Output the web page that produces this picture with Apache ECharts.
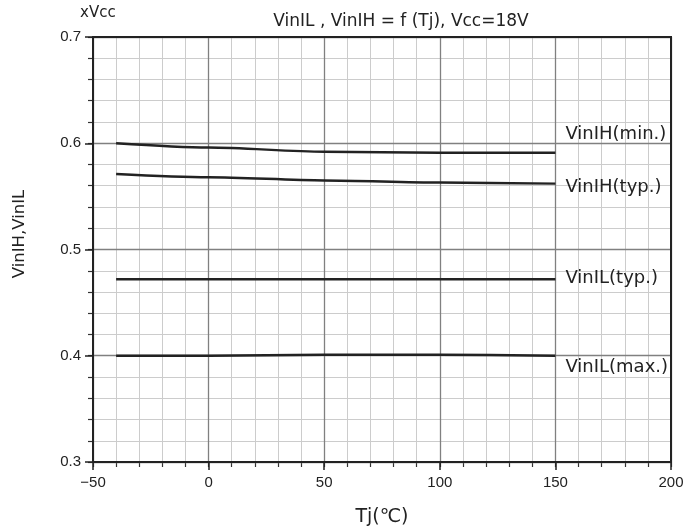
<!DOCTYPE html>
<html>
<head>
<meta charset="utf-8">
<script src="https://cdn.jsdelivr.net/npm/echarts@6/dist/echarts.min.js"></script>
<style>
  html, body { margin: 0; padding: 0; background: #fff; }
  #main { width: 687px; height: 532px; }
</style>
</head>
<body>
<div id="main"></div>
<script>
// 温度 (Tj) 采样点
var tj = [-40, 0, 50, 100, 150];
// 各曲线数值 (xVcc)
var vinIHmin = [0.600, 0.596, 0.592, 0.591, 0.591];
var vinIHtyp = [0.571, 0.568, 0.565, 0.563, 0.562];
var vinILtyp = [0.472, 0.472, 0.472, 0.472, 0.472];
var vinILmax = [0.400, 0.400, 0.401, 0.401, 0.400];
var seriesNames = ['VinIH(min.)', 'VinIH(typ.)', 'VinIL(typ.)', 'VinIL(max.)'];
var labelOffsets = [[0, -18], [0, 4], [0, -1], [0, 12]];

var font = '"DejaVu Sans", sans-serif';
var numFont = '"Liberation Sans", Arial, sans-serif';

function pairs(arr) {
  return tj.map(function (t, i) { return [t, arr[i]]; });
}

let myChart = echarts.init(document.getElementById('main'));

let option = {
  backgroundColor: '#fff',
  animation: false,
  title: {
    text: 'VinIL , VinIH = f (Tj), Vcc=18V',
    left: 396, top: 8,
    textAlign: 'center',
    textStyle: { fontFamily: font, fontSize: 17, fontWeight: 'normal', color: '#222' }
  },
  grid: { left: 93, right: 16, top: 37, bottom: 70 },
  xAxis: [{
    // 主刻度
    type: 'value', min: -50, max: 200, interval: 50,
    name: 'Tj(℃)', nameLocation: 'middle', nameGap: 46,
    nameTextStyle: { fontFamily: font, fontSize: 19, color: '#222' },
    axisLine: { show: true, onZero: false, lineStyle: { color: '#222', width: 2 } },
    axisTick: { show: true, length: 8, lineStyle: { color: '#222', width: 1.5 } },
    axisLabel: { fontFamily: numFont, fontSize: 15, color: '#222', margin: 13,
      formatter: function (v) { return String(v).replace('-', '\u2212'); } },
    splitLine: { show: true, lineStyle: { color: '#808080', width: 1.3 } },
    z: 3
  }, {
    // 次刻度
    type: 'value', min: -50, max: 200, interval: 10, position: 'bottom',
    axisLine: { show: false, onZero: false },
    axisTick: { show: true, length: 5, lineStyle: { color: '#333', width: 1.2 } },
    axisLabel: { show: false },
    splitLine: { show: true, lineStyle: { color: '#cccccc', width: 1 } },
    z: 1
  }],
  yAxis: [{
    type: 'value', min: 0.3, max: 0.7, interval: 0.1,
    axisLine: { show: true, onZero: false, lineStyle: { color: '#222', width: 2 } },
    axisTick: { show: true, length: 8, lineStyle: { color: '#222', width: 1.5 } },
    axisLabel: { fontFamily: numFont, fontSize: 15, color: '#222', margin: 12,
      formatter: function (v) { return v.toFixed(1); } },
    splitLine: { show: true, lineStyle: { color: '#808080', width: 1.3 } },
    z: 3
  }, {
    type: 'value', min: 0.3, max: 0.7, interval: 0.02, position: 'left',
    axisLine: { show: false, onZero: false },
    axisTick: { show: true, length: 5, lineStyle: { color: '#333', width: 1.2 } },
    axisLabel: { show: false },
    splitLine: { show: true, lineStyle: { color: '#cccccc', width: 1 } },
    z: 1
  }],
  graphic: [{
    type: 'text', left: 80, top: 6,
    style: { text: 'xVcc', fontFamily: font, fontSize: 15, fill: '#222' }
  }, {
    // 纵轴名称
    type: 'text', x: 20, y: 234, rotation: Math.PI / 2,
    style: { text: 'VinIH,VinIL', fontFamily: font, fontSize: 16.5, fill: '#222',
      align: 'center', verticalAlign: 'middle' }
  }, {
    // 右、上边框
    type: 'rect', shape: { x: 93, y: 37, width: 578, height: 425 },
    style: { fill: 'none', stroke: '#222', lineWidth: 2 }, z: 10
  }],
  series: [vinIHmin, vinIHtyp, vinILtyp, vinILmax].map(function (arr, i) {
    return {
      name: seriesNames[i],
      type: 'line',
      smooth: 0.3,
      smoothMonotone: 'x',
      symbol: 'none',
      data: pairs(arr),
      lineStyle: { color: '#222', width: 2.5 },
      endLabel: {
        show: true,
        formatter: seriesNames[i],
        distance: 10,
        offset: labelOffsets[i],
        fontFamily: font, fontSize: 18, color: '#222'
      },
      z: 5
    };
  })
};

myChart.setOption(option);
</script>
</body>
</html>
